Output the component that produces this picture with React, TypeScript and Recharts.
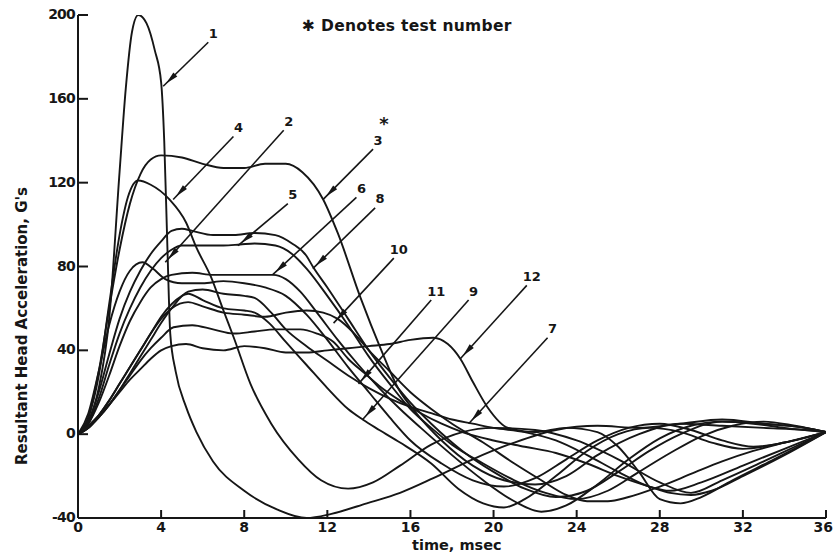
import React from 'react'
import { LineChart, Line, XAxis, YAxis, ReferenceLine } from 'recharts'

const timeTicks = [0, 4, 8, 12, 16, 20, 24, 28, 32, 36]
const accelTicks = [-40, 0, 40, 80, 120, 160, 200]

// [time msec, resultant head acceleration G's]
const test1 = [[0, 0], [0.5, 6], [1, 22], [1.5, 55], [2, 125], [2.3, 165], [2.6, 192], [2.9, 200], [3.3, 196], [3.7, 183], [4.0, 168], [4.15, 140], [4.3, 90], [4.44, 48], [4.7, 30], [5.2, 13], [5.7, 1], [6.5, -13], [8, -27], [9.6, -36], [11, -40], [12.2, -38], [13.9, -33], [15.5, -28], [17.1, -21], [19, -12], [21, -4], [23, 2], [25, 4], [27, 3], [29, 5], [31, 7], [33, 5], [35, 3], [36, 1]]
const test2 = [[0, 0], [0.5, 10], [1, 30], [1.5, 52], [2, 68], [2.5, 78], [3.1, 82], [3.6, 79], [4.2, 74], [5, 72], [6, 72], [7, 73], [8, 72], [9, 70], [10, 66], [11, 57], [12, 45], [13, 32], [14, 20], [15, 8], [16, -3], [17.5, -14], [19, -22], [20.5, -25], [22, -21], [23.5, -12], [25, -3], [26.5, 3], [28, 5], [29.5, 2], [31, -3], [32.5, -6], [34, -4], [36, 1]]
const test3 = [[0, 0], [0.5, 8], [1, 30], [1.5, 60], [2, 88], [2.5, 110], [3, 124], [3.5, 131], [4, 133], [5, 132], [6, 129], [7, 127], [8, 127], [9, 129], [10, 129], [10.8, 125], [11.8, 112], [12.5, 96], [13.6, 65], [14.6, 40], [15.4, 22], [16.2, 11], [17.5, -3], [19, -15], [20.5, -22], [22, -24], [23.5, -20], [25, -10], [27, 0], [29, 5], [31, 4], [33, 3], [35, 2], [36, 1]]
const test4 = [[0, 0], [0.5, 8], [1, 28], [1.5, 62], [2, 95], [2.4, 113], [2.9, 121], [3.5, 119], [4.4, 112], [5.2, 101], [5.7, 89], [6.4, 75], [7, 59], [7.5, 46], [8.3, 24], [9.3, 5], [10.6, -12], [11.7, -22], [13, -26], [14.2, -23], [15.5, -15], [17, -5], [18.5, 1], [20, 3], [22, 2], [24, -3], [26, -12], [28, -23], [29.5, -28], [31, -22], [33, -13], [34.5, -6], [36, 1]]
const test5 = [[0, 0], [0.5, 5], [1, 17], [1.5, 33], [2, 48], [2.5, 60], [3, 70], [3.5, 78], [4, 84], [4.5, 88], [5, 90], [6, 90], [7, 90], [7.8, 90.5], [8.5, 91], [9.5, 90], [10.3, 86], [11, 79], [12, 66], [13, 52], [14, 37], [15, 24], [16, 12], [17, 3], [18, -5], [19.5, -14], [21, -22], [22.5, -28], [24, -31], [25.5, -27], [27, -18], [28.5, -9], [30, -1], [31.5, 4], [33, 6], [34.5, 4], [36, 1]]
const test6 = [[0, 0], [0.5, 5], [1, 15], [1.5, 28], [2, 42], [2.5, 54], [3, 63], [3.5, 70], [4, 74], [4.5, 76], [5.5, 77], [6.5, 76], [7.5, 76], [8.5, 76], [9.4, 76], [10, 74], [10.7, 68], [11.5, 58], [12.5, 45], [13.5, 33], [14.5, 22], [15.5, 12], [16.5, 3], [18, -10], [19.5, -22], [21, -32], [22.3, -37], [23.5, -34], [25, -24], [26.5, -12], [28, -2], [29.5, 4], [31, 6], [32.5, 5], [34, 3], [36, 1]]
const test7 = [[0, 0], [0.5, 3], [1, 8], [1.5, 14], [2, 21], [2.5, 29], [3, 37], [3.5, 45], [4, 53], [4.5, 60], [5.3, 68], [6, 69], [7, 67], [8, 66], [8.5, 65], [9.3, 58], [10, 50], [11, 42], [12, 35], [13, 28], [14, 22], [15, 17], [16, 13], [17, 10], [18, 7], [19, 5], [20, 3], [21.5, 1], [23, -3], [24.5, -10], [26, -18], [27.5, -25], [28.5, -27], [30, -23], [32, -15], [34, -7], [36, 1]]
const test8 = [[0, 0], [0.5, 6], [1, 20], [1.5, 38], [2, 55], [2.5, 68], [3, 78], [3.5, 86], [4, 92], [4.5, 97], [5, 98], [5.5, 97], [6.5, 95], [7.5, 95], [8.5, 96], [9.5, 95], [10.3, 91], [11, 85], [11.3, 80], [12, 70], [13, 55], [14, 40], [15, 27], [16, 15], [17, 5], [18.5, -8], [20, -18], [21.5, -26], [23, -30], [24.5, -27], [26, -18], [27.5, -8], [29, 0], [31, 6], [33, 5], [35, 3], [36, 1]]
const test9 = [[0, 0], [0.5, 3], [1, 9], [1.5, 16], [2, 24], [2.5, 32], [3, 40], [3.5, 48], [4, 56], [4.5, 62], [5.3, 67], [6, 64], [7, 60], [8, 59], [8.5, 58], [9.2, 53], [10, 44], [11, 33], [12, 22], [13, 12], [13.7, 7], [14.5, 2], [15.5, -4], [17, -14], [18.3, -26], [19.5, -33], [20.5, -35], [21.5, -31], [23, -20], [24.5, -8], [26, 0], [27.5, 3], [29, 1], [30.5, -4], [32, -7], [34, -4], [36, 1]]
const test10 = [[0, 0], [0.5, 3], [1, 9], [1.5, 16], [2, 24], [2.5, 32], [3, 40], [3.5, 48], [4, 55], [4.5, 60], [5.3, 63], [6, 61], [7, 58], [8, 57], [9, 56], [10, 58], [11, 59], [11.8, 58], [12.5, 55], [13.3, 48], [14, 40], [15, 30], [16, 20], [17, 12], [18, 5], [19.5, -4], [21, -14], [22.3, -22], [23.5, -29], [24.5, -32], [25.5, -32], [26.5, -30], [28, -25], [29.5, -19], [31, -13], [32.5, -8], [34, -4], [36, 1]]
const test11 = [[0, 0], [0.5, 3], [1, 8], [1.5, 14], [2, 21], [2.5, 28], [3, 35], [3.5, 41], [4, 46], [4.6, 51], [5.5, 52], [6.5, 50], [7.5, 48], [8.5, 49], [9.5, 50], [10.7, 50], [11.5, 48], [12.3, 44], [13, 36], [13.8, 29], [14.5, 23], [15.5, 16], [16.5, 10], [17.5, 5], [18.5, 1], [20, -3], [21.5, -6], [23, -9], [24.5, -14], [26, -20], [27.5, -25], [28.5, -28], [29.5, -29], [30.5, -27], [32, -20], [34, -10], [36, 1]]
const test12 = [[0, 0], [0.5, 4], [1, 9], [1.5, 14], [2, 20], [2.5, 26], [3, 31], [3.5, 36], [4, 40], [4.5, 42], [5.2, 43], [6, 41], [7, 40], [8, 42], [9, 41], [10, 39], [11, 39], [12, 40], [13, 41], [14, 42], [15, 43], [16, 45], [17.1, 46], [17.8, 43], [18.4, 36], [19, 25], [19.7, 13], [20.7, 3], [22, 1], [23.5, 3], [25, 1], [26, -6], [27, -18], [28, -31], [29, -33], [30, -30], [31.5, -22], [33.5, -12], [36, 1]]

const tests = [test1, test2, test3, test4, test5, test6, test7, test8, test9, test10, test11, test12]

// test-number call-outs: label, arrow start [t, G], arrow end [t, G]
const calloutLabels = ['1', '4', '2', '3', '5', '6', '8', '10', '11', '9', '12', '7']
const calloutFrom = [[6.27, 187], [7.48, 142], [9.9, 145], [14.2, 136], [10.1, 110], [13.4, 113], [14.3, 108], [15.2, 84], [17, 64], [18.8, 64], [21.6, 71], [22.6, 46]]
const calloutTo = [[4.1, 166], [4.58, 112], [4.2, 82], [11.8, 112], [7.7, 90], [9.36, 76], [11.3, 79], [12.3, 53], [13.5, 24], [13.7, 7], [18.4, 36], [18.8, 5]]
const starredTest = '3'

const ink = '#161616'
const font = '"DejaVu Sans", sans-serif'

const series = tests.map((pts, i) => ({
  id: `test-${i + 1}`,
  data: pts.map(([t, g]) => ({ t, g })),
}))

const XTick = ({ x, y, payload }: any) => {
  const last = payload.value === timeTicks[timeTicks.length - 1]
  return (
    <g>
      <line x1={x} y1={y} x2={x} y2={y - 8} stroke={ink} strokeWidth={2} />
      <text
        x={last ? x + 7 : x}
        y={y + 10}
        textAnchor={last ? 'end' : 'middle'}
        dominantBaseline="middle"
        fontFamily={font}
        fontWeight={700}
        fontSize={14}
        fill={ink}
      >
        {payload.value}
      </text>
    </g>
  )
}

const YTick = ({ x, y, payload }: any) => (
  <g>
    <line x1={x} y1={y} x2={x + 10} y2={y} stroke={ink} strokeWidth={2} />
    <text x={x - 3} y={y} textAnchor="end" dominantBaseline="middle" fontFamily={font} fontWeight={700} fontSize={14} fill={ink} letterSpacing={-0.8}>
      {payload.value}
    </text>
  </g>
)

const arrowShape = (label: string) => (p: any) => {
  const { x1, y1, x2, y2 } = p
  const dx = x2 - x1
  const dy = y2 - y1
  const len = Math.hypot(dx, dy) || 1
  const ux = dx / len
  const uy = dy / len
  const tipX = x2 - ux * 4
  const tipY = y2 - uy * 4
  const baseX = tipX - ux * 13
  const baseY = tipY - uy * 13
  const nx = -uy * 2.8
  const ny = ux * 2.8
  return (
    <g>
      <line x1={x1} y1={y1} x2={x2} y2={y2} stroke={ink} strokeWidth={1.6} />
      <polygon points={`${tipX},${tipY} ${baseX + nx},${baseY + ny} ${baseX - nx},${baseY - ny}`} fill={ink} />
      <text x={x1 + 5} y={y1 - 8} textAnchor="middle" dominantBaseline="middle" fontFamily={font} fontWeight={700} fontSize={13} fill={ink}>
        {label}
      </text>
      {label === starredTest && (
        <text x={x1 + 11} y={y1 - 24} textAnchor="middle" dominantBaseline="middle" fontFamily={font} fontWeight={700} fontSize={18} fill={ink}>
          *
        </text>
      )}
    </g>
  )
}

export default function App() {
  return (
    <div style={{ position: 'absolute', left: 0, top: 0, width: 834, height: 556, background: '#fff' }}>
      <LineChart width={834} height={556} margin={{ top: 15, right: 8, left: 0, bottom: 0 }}>
        <XAxis
          dataKey="t"
          type="number"
          domain={[0, 36]}
          ticks={timeTicks}
          height={38}
          tickSize={0}
          tickMargin={0}
          tickLine={false}
          tick={<XTick />}
          axisLine={{ stroke: ink, strokeWidth: 2 }}
          allowDataOverflow
        />
        <YAxis
          type="number"
          domain={[-40, 200]}
          ticks={accelTicks}
          width={78}
          tickSize={0}
          tickMargin={0}
          tickLine={false}
          tick={<YTick />}
          axisLine={{ stroke: ink, strokeWidth: 2 }}
          allowDataOverflow
        />
        {series.map(s => (
          <Line
            key={s.id}
            data={s.data}
            dataKey="g"
            type="monotone"
            stroke={ink}
            strokeWidth={1.9}
            dot={false}
            activeDot={false}
            isAnimationActive={false}
          />
        ))}
        {calloutLabels.map((label, i) => (
          <ReferenceLine
            key={`callout-${label}`}
            segment={[
              { x: calloutFrom[i][0], y: calloutFrom[i][1] },
              { x: calloutTo[i][0], y: calloutTo[i][1] },
            ]}
            ifOverflow="visible"
            shape={arrowShape(label)}
          />
        ))}
      </LineChart>
      <div
        style={{
          position: 'absolute', left: 302, top: 17, fontFamily: font, fontWeight: 700,
          fontSize: 15.5, color: ink, whiteSpace: 'nowrap', letterSpacing: 0.3,
        }}
      >
        ✱ Denotes test number
      </div>
      <div
        style={{
          position: 'absolute', left: 22, top: 326, transform: 'translate(-50%, -50%) rotate(-90deg)',
          fontFamily: font, fontWeight: 700, fontSize: 15, color: ink, whiteSpace: 'nowrap',
        }}
      >
        Resultant Head Acceleration, G's
      </div>
      <div
        style={{
          position: 'absolute', left: 412, top: 537, fontFamily: font, fontWeight: 700,
          fontSize: 14.5, lineHeight: '17px', color: ink, whiteSpace: 'nowrap',
        }}
      >
        time, msec
      </div>
    </div>
  )
}
